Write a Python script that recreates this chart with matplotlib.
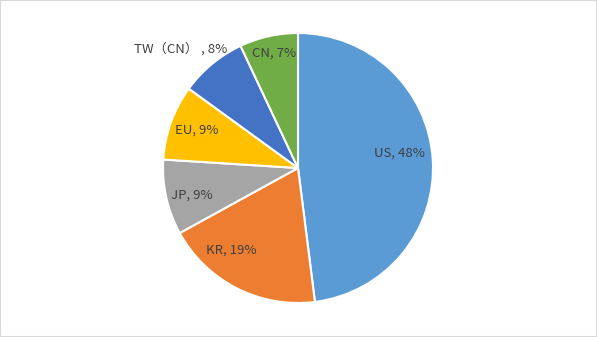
import numpy as np
import matplotlib
matplotlib.use("Agg")
import matplotlib.pyplot as plt
from matplotlib.patches import Rectangle

plt.rcParams['font.family'] = ['Noto Sans CJK SC', 'DejaVu Sans']

regions = ["US", "KR", "JP", "EU", "TW（CN）", "CN"]
shares = [48, 19, 9, 9, 8, 7]
colors = ["#5B9BD5", "#ED7D31", "#A5A5A5", "#FFC000", "#4472C4", "#70AD47"]

# label placement: radius factor and angle tweak (deg) per slice
label_r = [0.76, 0.78, 0.81, 0.80, 1.24, 0.87]
label_da = [5, -12, 2, -1, 5, -1]

fig = plt.figure(figsize=(5.97, 3.37), dpi=100)
ax = fig.add_axes([0, 0, 1, 1])
wedges, _ = ax.pie(shares, colors=colors, startangle=90, counterclock=False,
                   radius=1, center=(0, 0),
                   wedgeprops=dict(edgecolor="white", linewidth=1.5))

for w, name, s, r, da in zip(wedges, regions, shares, label_r, label_da):
    mid = np.deg2rad((w.theta1 + w.theta2) / 2 + da)
    sep = "," if name != "TW（CN）" else " ,"
    ax.text(r * np.cos(mid), r * np.sin(mid), f"{name}{sep} {s}%",
            ha="center", va="center", fontsize=9.5, color="#404040")

cx, cy, rad = 298, 168, 135
ax.set_xlim(-cx / rad, (597 - cx) / rad)
ax.set_ylim(-(337 - cy) / rad, cy / rad)
ax.axis("off")

fig.patches.append(Rectangle((0, 0), 1, 1, transform=fig.transFigure,
                             fill=False, edgecolor="#D9D9D9", linewidth=1.5))
fig.savefig("out.png", dpi=100)
